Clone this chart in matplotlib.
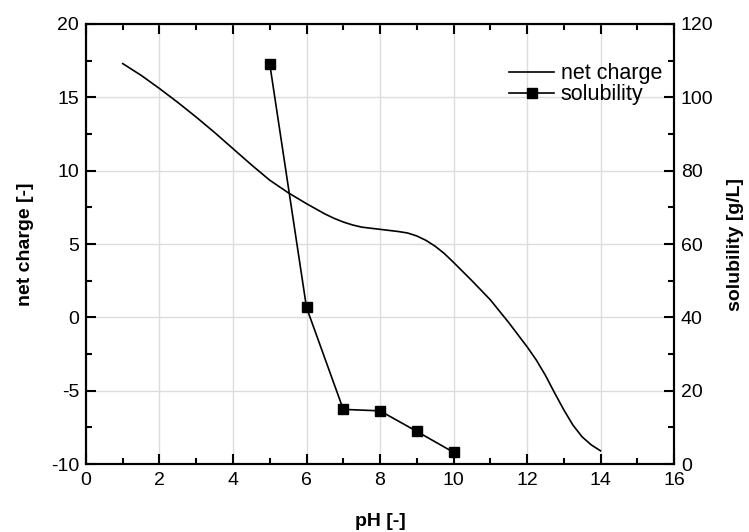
import matplotlib
matplotlib.use("Agg")
import matplotlib.pyplot as plt
from matplotlib.ticker import MultipleLocator

plt.rcParams['font.family'] = ['Liberation Sans', 'DejaVu Sans']
plt.rcParams['font.size'] = 14
plt.rcParams['axes.unicode_minus'] = False

# net charge curve
ph_charge = [1.0, 1.5, 2.0, 2.5, 3.0, 3.5, 4.0, 4.5, 5.0, 5.5, 6.0, 6.5, 6.75, 7.0, 7.25, 7.5,
             8.0, 8.5, 8.75, 9.0, 9.25, 9.5, 9.75, 10.0, 10.5, 11.0, 11.5, 12.0, 12.25, 12.5,
             12.75, 13.0, 13.25, 13.5, 13.75, 14.0]
net_charge = [17.3, 16.5, 15.6, 14.65, 13.65, 12.6, 11.5, 10.4, 9.35, 8.5, 7.75, 7.05, 6.75, 6.5, 6.3, 6.15,
              6.0, 5.85, 5.75, 5.55, 5.25, 4.85, 4.35, 3.75, 2.5, 1.2, -0.35, -2.0, -2.9, -3.95,
              -5.15, -6.3, -7.35, -8.15, -8.7, -9.1]

# solubility measurements
ph_sol = [5, 6, 7, 8, 9, 10]
solubility = [109.1, 42.7, 14.9, 14.5, 8.9, 3.2]

fig = plt.figure(figsize=(7.49, 5.32), dpi=100)
ax = fig.add_axes([0.1148, 0.1278, 0.7851, 0.8271])
ax2 = ax.twinx()

l1, = ax.plot(ph_charge, net_charge, color='black', lw=1.2, label='net charge')
l2, = ax2.plot(ph_sol, solubility, color='black', lw=1.2, marker='s', ms=6.5, label='solubility')

ax.set_xlim(0, 16)
ax.set_ylim(-10, 20)
ax2.set_ylim(0, 120)

ax.xaxis.set_major_locator(MultipleLocator(2))
ax.xaxis.set_minor_locator(MultipleLocator(1))
ax.yaxis.set_major_locator(MultipleLocator(5))
ax.yaxis.set_minor_locator(MultipleLocator(2.5))
ax2.yaxis.set_major_locator(MultipleLocator(20))
ax2.yaxis.set_minor_locator(MultipleLocator(10))

ax.grid(True, which='major', color='#dcdcdc', lw=1)
ax.set_axisbelow(True)

ax.tick_params(which='both', direction='in', top=True, width=1.5)
ax.tick_params(which='major', length=7, labelsize=14)
ax.tick_params(which='minor', length=4)
ax2.tick_params(which='both', direction='in', width=1.5)
ax2.tick_params(which='major', length=7, labelsize=14)
ax2.tick_params(which='minor', length=4)
ax.tick_params(axis='x', pad=6)
ax.tick_params(axis='y', pad=5)
ax2.tick_params(axis='y', pad=5)

for a in (ax, ax2):
    for s in a.spines.values():
        s.set_linewidth(1.5)

ax.set_xlabel('pH [-]', fontweight='bold', labelpad=17)
ax.set_ylabel('net charge [-]', fontweight='bold', labelpad=12)
ax2.set_ylabel('solubility [g/L]', fontweight='bold', labelpad=10)

ax2.legend([l1, l2], ['net charge', 'solubility'], loc='upper right', frameon=False,
           handlelength=2.1, handletextpad=0.3, labelspacing=0.0,
           bbox_to_anchor=(1.013, 0.955), fontsize=15.5)

fig.savefig('out.png', dpi=100)
